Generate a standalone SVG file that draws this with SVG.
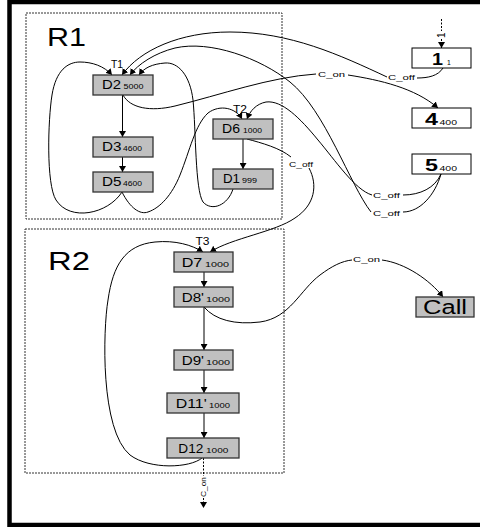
<svg xmlns="http://www.w3.org/2000/svg" width="483" height="527" viewBox="0 0 483 527">
<style>
text{font-family:"Liberation Sans",Arial,sans-serif;fill:#000}
.nd{fill:#c0c0c0;stroke:#333;stroke-width:1.3}
.wb{fill:#fff;stroke:#000;stroke-width:1}
.m{font-size:13px}
.s{font-size:6.8px}
.big{font-size:17px;font-weight:bold}
.lab{font-size:8px}
.t{font-size:10px}
.reg{fill:none;stroke:#333;stroke-width:1;stroke-dasharray:2 1}
.c{fill:none;stroke:#000;stroke-width:1}
.a{marker-end:url(#ah)}
.d{stroke-dasharray:2 1.5}
</style>
<defs>
<marker id="ah" viewBox="0 0 6 7" refX="6" refY="3.5" markerWidth="6" markerHeight="7" markerUnits="userSpaceOnUse" orient="auto">
<path d="M0,0 L6,3.5 L0,7 z" fill="#000"/>
</marker>
</defs>
<rect width="483" height="527" fill="#fff"/>
<path d="M480,2 L9.5,2 L9.5,525 L480,525" fill="none" stroke="#000" stroke-width="4.5"/>

<g id="R1">
<rect class="reg" x="26" y="13" width="256" height="206"/>
<text x="47" y="46" font-size="25" textLength="39" lengthAdjust="spacingAndGlyphs">R1</text>
</g>
<g id="R2">
<rect class="reg" x="25" y="229" width="259" height="244"/>
<text x="48" y="270" font-size="25" textLength="42" lengthAdjust="spacingAndGlyphs">R2</text>
</g>

<g id="connectors">
<path class="c a" d="M122.5,95 L122.5,137"/>
<path class="c a" d="M122.5,157 L122.5,172"/>
<path class="c a" d="M243,139 L243,169"/>
<path class="c a" d="M204,272 L204,287"/>
<path class="c a" d="M204,307 L204,350"/>
<path class="c a" d="M204,370 L204,393"/>
<path class="c a" d="M204,413 L204,438"/>
<path class="c a" d="M122,192 C108,214 70,222 56,200 C46,184 48,120 52,95 C56,70 68,62 80,62 C92,62 104,66 112,75"/>
<path class="c a" d="M233,189 C228,205 212,212 203,202 C195,190 196,130 193,100 C190,75 178,62 165,63 C152,64 144,68 139,75"/>
<path class="c a" d="M122,192 C130,208 140,215 148,212 C160,208 172,195 180,175 C190,150 195,125 208,113 C220,104 236,108 242,119"/>
<path class="c" d="M443,68 C438,76 428,78 417,78"/>
<path class="c a" d="M387,77 C340,55 290,32 230,32 C180,32 140,50 122,75"/>
<path class="c" d="M441,174 C435,188 420,195 403,195"/>
<path class="c" d="M441,174 C435,195 420,212 403,212"/>
<path class="c a" d="M371,212 C350,185 325,110 290,82 C260,58 210,40 175,48 C155,53 138,64 130,75"/>
<path class="c a" d="M372,195 C355,190 335,160 318,140 C300,118 282,100 266,102 C256,104 250,111 247,119"/>
<path class="c" d="M123,95 C130,108 150,112 175,106 C220,95 270,77 316,74"/>
<path class="c a" d="M348,75 C380,80 415,88 438,108"/>
<path class="c" d="M247,139 C262,143 280,148 291,157"/>
<path class="c a" d="M309,168 C318,185 315,205 295,218 C275,232 232,238 210,252"/>
<path class="c a" d="M202,458 C190,468 150,470 130,455 C100,430 103,330 108,300 C113,265 125,245 155,242 C175,240 192,245 203,252"/>
<path class="c" d="M204,307 C215,320 235,325 260,322 C290,318 300,290 320,275 C332,266 342,261 352,260"/>
<path class="c a" d="M382,260 C405,263 430,280 443,297"/>
<path class="c d" d="M441.5,19 L441.5,31"/>
<path class="c d a" d="M441.5,39 L441.5,48"/>
<path class="c d" d="M203.5,458 L203.5,476"/>
<path class="c d a" d="M203.5,498 L203.5,508"/>
<text class="lab" x="388" y="80" textLength="27" lengthAdjust="spacingAndGlyphs">C_off</text>
<text class="lab" x="318" y="77" textLength="27" lengthAdjust="spacingAndGlyphs">C_on</text>
<text class="lab" x="289" y="167" textLength="24" lengthAdjust="spacingAndGlyphs">C_off</text>
<text class="lab" x="373" y="197.5" textLength="27" lengthAdjust="spacingAndGlyphs">C_off</text>
<text class="lab" x="373" y="215.5" textLength="27" lengthAdjust="spacingAndGlyphs">C_off</text>
<text class="lab" x="353" y="262" textLength="27" lengthAdjust="spacingAndGlyphs">C_on</text>
<text class="lab" transform="translate(206,497) rotate(-90)" textLength="20" lengthAdjust="spacingAndGlyphs">C_on</text>
<text font-size="10" transform="translate(445,38) rotate(-90)">1</text>
<text class="t" x="111" y="67.5" textLength="12" lengthAdjust="spacingAndGlyphs">T1</text>
<text class="t" x="233" y="113" textLength="14" lengthAdjust="spacingAndGlyphs">T2</text>
<text class="t" x="195.5" y="245" textLength="14" lengthAdjust="spacingAndGlyphs">T3</text>
</g>

<g id="D2"><rect class="nd" x="93" y="75" width="60" height="20"/>
<text class="m" x="102" y="89" textLength="19" lengthAdjust="spacingAndGlyphs">D2</text><text class="s" x="123.5" y="89" textLength="20" lengthAdjust="spacingAndGlyphs">5000</text></g>
<g id="D3"><rect class="nd" x="93" y="137" width="60" height="20"/>
<text class="m" x="102" y="151" textLength="19.5" lengthAdjust="spacingAndGlyphs">D3</text><text class="s" x="123" y="151" textLength="19" lengthAdjust="spacingAndGlyphs">4600</text></g>
<g id="D5"><rect class="nd" x="93" y="172" width="60" height="20"/>
<text class="m" x="102" y="186" textLength="19.5" lengthAdjust="spacingAndGlyphs">D5</text><text class="s" x="123" y="186" textLength="19" lengthAdjust="spacingAndGlyphs">4600</text></g>
<g id="D6"><rect class="nd" x="213" y="119" width="60" height="20"/>
<text class="m" x="222" y="133" textLength="18" lengthAdjust="spacingAndGlyphs">D6</text><text class="s" x="243" y="133" textLength="19" lengthAdjust="spacingAndGlyphs">1000</text></g>
<g id="D1"><rect class="nd" x="213" y="169" width="60" height="20"/>
<text class="m" x="223" y="183" textLength="17" lengthAdjust="spacingAndGlyphs">D1</text><text class="s" x="242" y="183" textLength="15" lengthAdjust="spacingAndGlyphs">999</text></g>
<g id="D7"><rect class="nd" x="174" y="252" width="59" height="20"/>
<text class="m" x="181.7" y="266.5" textLength="20.6" lengthAdjust="spacingAndGlyphs">D7</text><text class="s" x="205" y="266.5" textLength="24" lengthAdjust="spacingAndGlyphs">1000</text></g>
<g id="D8"><rect class="nd" x="174" y="287" width="59" height="20"/>
<text class="m" x="181.7" y="301.5" textLength="22.3" lengthAdjust="spacingAndGlyphs">D8'</text><text class="s" x="206" y="301.5" textLength="24" lengthAdjust="spacingAndGlyphs">1000</text></g>
<g id="D9"><rect class="nd" x="174" y="350" width="59" height="20"/>
<text class="m" x="181.7" y="364.5" textLength="22.3" lengthAdjust="spacingAndGlyphs">D9'</text><text class="s" x="206" y="364.5" textLength="24" lengthAdjust="spacingAndGlyphs">1000</text></g>
<g id="D11"><rect class="nd" x="167" y="393" width="72" height="20"/>
<text class="m" x="175.7" y="407.5" textLength="31" lengthAdjust="spacingAndGlyphs">D11'</text><text class="s" x="209" y="407.5" textLength="21" lengthAdjust="spacingAndGlyphs">1000</text></g>
<g id="D12"><rect class="nd" x="167" y="438" width="72" height="20"/>
<text class="m" x="178.3" y="452.5" textLength="25" lengthAdjust="spacingAndGlyphs">D12</text><text class="s" x="206" y="452.5" textLength="22.3" lengthAdjust="spacingAndGlyphs">1000</text></g>
<g id="Call"><rect class="nd" x="416" y="297" width="58" height="20"/>
<text x="423" y="314" font-size="20" textLength="44" lengthAdjust="spacingAndGlyphs">Call</text></g>
<g id="B1"><rect class="wb" x="412" y="48" width="59" height="20"/>
<text class="big" x="432" y="65" font-size="18" textLength="11" lengthAdjust="spacingAndGlyphs">1</text><text class="s" x="447" y="65">1</text></g>
<g id="B4"><rect class="wb" x="412" y="108" width="59" height="20"/>
<text class="big" x="425" y="124.5" textLength="13" lengthAdjust="spacingAndGlyphs">4</text><text class="s" x="439.5" y="124.5" textLength="17.5" lengthAdjust="spacingAndGlyphs">400</text></g>
<g id="B5"><rect class="wb" x="412" y="154" width="59" height="20"/>
<text class="big" x="425" y="170.5" textLength="13" lengthAdjust="spacingAndGlyphs">5</text><text class="s" x="439.5" y="170.5" textLength="17.5" lengthAdjust="spacingAndGlyphs">400</text></g>
</svg>
